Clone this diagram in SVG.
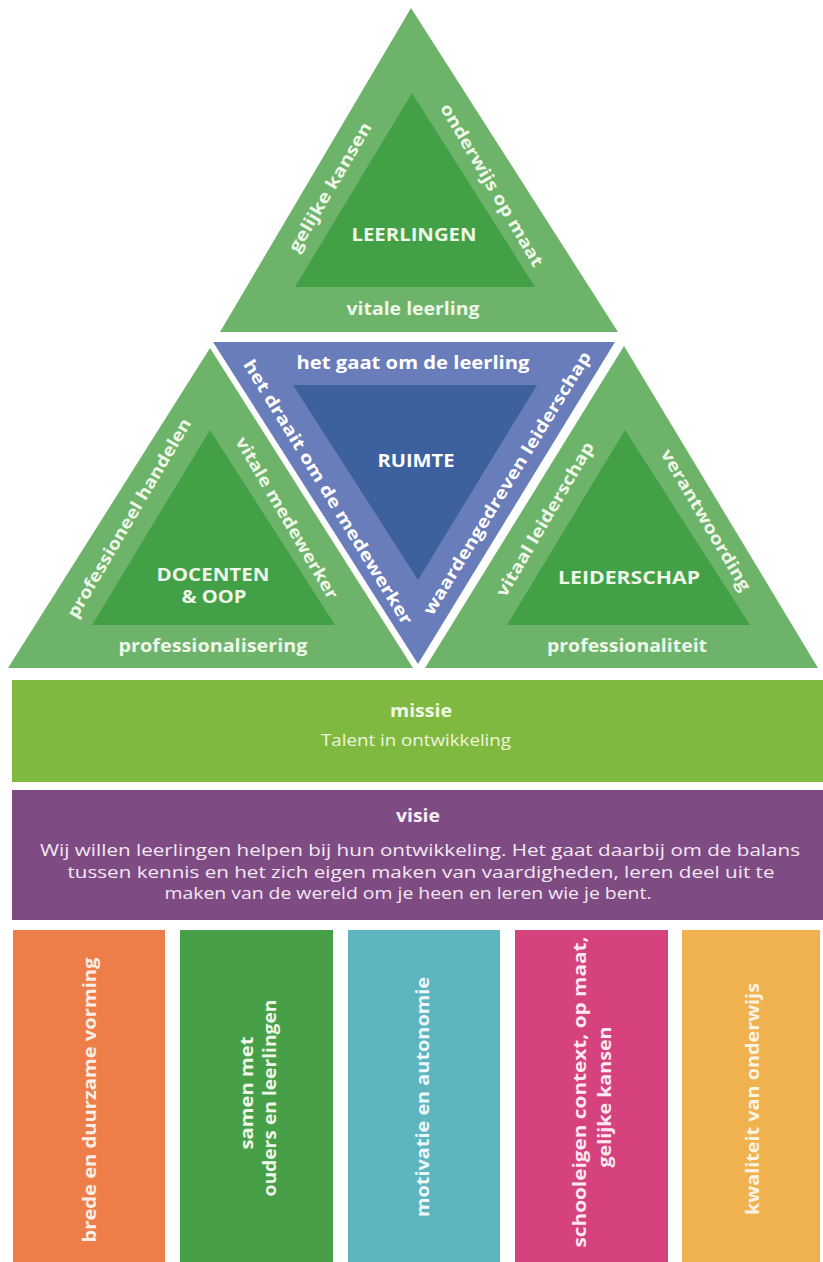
<svg xmlns="http://www.w3.org/2000/svg" width="823" height="1262" viewBox="0 0 823 1262">
<style>
.b{font-family:"Open Sans","DejaVu Sans",sans-serif;font-weight:700;text-anchor:middle}
.r{font-family:"Open Sans","DejaVu Sans",sans-serif;font-weight:400;text-anchor:middle}
.g{fill:#eef7e8}
.w{fill:#ffffff}
.go{fill:#6db46a}
.gi{fill:#42a047}
</style>
<rect width="823" height="1262" fill="#ffffff"/>
<g id="leerlingen">
<polygon class="go" points="411,8 220,332 618,332"/>
<polygon class="gi" points="412,93 295,287 535,287"/>
<text class="b g" font-size="17" textLength="147" lengthAdjust="spacingAndGlyphs" dy="0.35em" transform="translate(330,187) rotate(-59.6)">gelijke kansen</text>
<text class="b g" font-size="17" textLength="186" lengthAdjust="spacingAndGlyphs" dy="0.35em" transform="translate(492,185) rotate(59.6)">onderwijs op maat</text>
<text class="b g" x="414" y="241" font-size="17" textLength="125" lengthAdjust="spacingAndGlyphs">LEERLINGEN</text>
<text class="b g" x="413" y="315" font-size="17" textLength="133" lengthAdjust="spacingAndGlyphs">vitale leerling</text>
</g>
<g id="ruimte">
<polygon fill="#6a7dbb" points="213,342 615,342 418,664"/>
<polygon fill="#3d619f" points="293,385 537,385 418,580"/>
<text class="b w" x="413" y="369" font-size="17" textLength="233" lengthAdjust="spacingAndGlyphs">het gaat om de leerling</text>
<text class="b w" font-size="17" textLength="307" lengthAdjust="spacingAndGlyphs" dy="0.35em" transform="translate(328,492) rotate(58.5)">het draait om de medewerker</text>
<text class="b w" font-size="17" textLength="305" lengthAdjust="spacingAndGlyphs" dy="0.35em" transform="translate(507,483) rotate(-58.5)">waardengedreven leiderschap</text>
<text class="b w" x="416" y="467" font-size="17" textLength="77" lengthAdjust="spacingAndGlyphs">RUIMTE</text>
</g>
<g id="docenten">
<polygon class="go" points="210,348 8,668 413,668"/>
<polygon class="gi" points="210,430 92,625 335,625"/>
<text class="b g" font-size="17" textLength="228" lengthAdjust="spacingAndGlyphs" dy="0.35em" transform="translate(129,518) rotate(-59.6)">professioneel handelen</text>
<text class="b g" font-size="17" textLength="185" lengthAdjust="spacingAndGlyphs" dy="0.35em" transform="translate(287,518) rotate(59.6)">vitale medewerker</text>
<text class="b g" x="213" y="581" font-size="17" textLength="113" lengthAdjust="spacingAndGlyphs">DOCENTEN</text>
<text class="b g" x="214" y="603" font-size="17" textLength="65" lengthAdjust="spacingAndGlyphs">&amp; OOP</text>
<text class="b g" x="213" y="652" font-size="17" textLength="189" lengthAdjust="spacingAndGlyphs">professionalisering</text>
</g>
<g id="leiderschap">
<polygon class="go" points="624,346 425,668 818,668"/>
<polygon class="gi" points="625,430 507,625 750,625"/>
<text class="b g" font-size="17" textLength="176" lengthAdjust="spacingAndGlyphs" dy="0.35em" transform="translate(545,519) rotate(-59.6)">vitaal leiderschap</text>
<text class="b g" font-size="17" textLength="161" lengthAdjust="spacingAndGlyphs" dy="0.35em" transform="translate(706,520) rotate(59.6)">verantwoording</text>
<text class="b g" x="629" y="584" font-size="17" textLength="142" lengthAdjust="spacingAndGlyphs">LEIDERSCHAP</text>
<text class="b g" x="627" y="652" font-size="17" textLength="160" lengthAdjust="spacingAndGlyphs">professionaliteit</text>
</g>
<g id="missie">
<rect x="12" y="680" width="811" height="102" fill="#80b940"/>
<text class="b" x="421" y="717" font-size="18" fill="#f2f8e6" textLength="62" lengthAdjust="spacingAndGlyphs">missie</text>
<text class="r" x="416" y="746" font-size="16" fill="#eef6dc" textLength="190" lengthAdjust="spacingAndGlyphs">Talent in ontwikkeling</text>
</g>
<g id="visie">
<rect x="12" y="790" width="811" height="130" fill="#7f4b83"/>
<text class="b" x="418" y="822" font-size="18" fill="#f6eef6" textLength="44" lengthAdjust="spacingAndGlyphs">visie</text>
<text class="r" x="420" y="856" font-size="16.5" fill="#f3e8f3" textLength="760" lengthAdjust="spacingAndGlyphs">Wij willen leerlingen helpen bij hun ontwikkeling. Het gaat daarbij om de balans</text>
<text class="r" x="421" y="878" font-size="16.5" fill="#f3e8f3" textLength="707" lengthAdjust="spacingAndGlyphs">tussen kennis en het zich eigen maken van vaardigheden, leren deel uit te</text>
<text class="r" x="408" y="899" font-size="16.5" fill="#f3e8f3" textLength="487" lengthAdjust="spacingAndGlyphs">maken van de wereld om je heen en leren wie je bent.</text>
</g>
<g id="pillar1">
<rect x="13" y="930" width="152" height="332" fill="#ee7e49"/>
<text class="b" fill="#fbeee6" font-size="17.5" textLength="285" lengthAdjust="spacingAndGlyphs" dy="0.35em" transform="translate(90,1100) rotate(-90)">brede en duurzame vorming</text>
</g>
<g id="pillar2">
<rect x="180" y="930" width="153" height="332" fill="#47a047"/>
<text class="b" fill="#eef7ea" font-size="17.5" textLength="113" lengthAdjust="spacingAndGlyphs" dy="0.35em" transform="translate(247,1093) rotate(-90)">samen met</text>
<text class="b" fill="#eef7ea" font-size="17.5" textLength="197" lengthAdjust="spacingAndGlyphs" dy="0.35em" transform="translate(270,1098) rotate(-90)">ouders en leerlingen</text>
</g>
<g id="pillar3">
<rect x="348" y="930" width="152" height="332" fill="#5db5c0"/>
<text class="b" fill="#eef8fa" font-size="17.5" textLength="240" lengthAdjust="spacingAndGlyphs" dy="0.35em" transform="translate(423,1097) rotate(-90)">motivatie en autonomie</text>
</g>
<g id="pillar4">
<rect x="515" y="930" width="153" height="332" fill="#d6427e"/>
<text class="b" fill="#fbe9f1" font-size="17.5" textLength="311" lengthAdjust="spacingAndGlyphs" dy="0.35em" transform="translate(580,1092) rotate(-90)">schooleigen context, op maat,</text>
<text class="b" fill="#fbe9f1" font-size="17.5" textLength="141" lengthAdjust="spacingAndGlyphs" dy="0.35em" transform="translate(605,1097) rotate(-90)">gelijke kansen</text>
</g>
<g id="pillar5">
<rect x="682" y="930" width="138" height="332" fill="#efb24f"/>
<text class="b" fill="#fdf3e3" font-size="17.5" textLength="232" lengthAdjust="spacingAndGlyphs" dy="0.35em" transform="translate(753,1099) rotate(-90)">kwaliteit van onderwijs</text>
</g>
</svg>
